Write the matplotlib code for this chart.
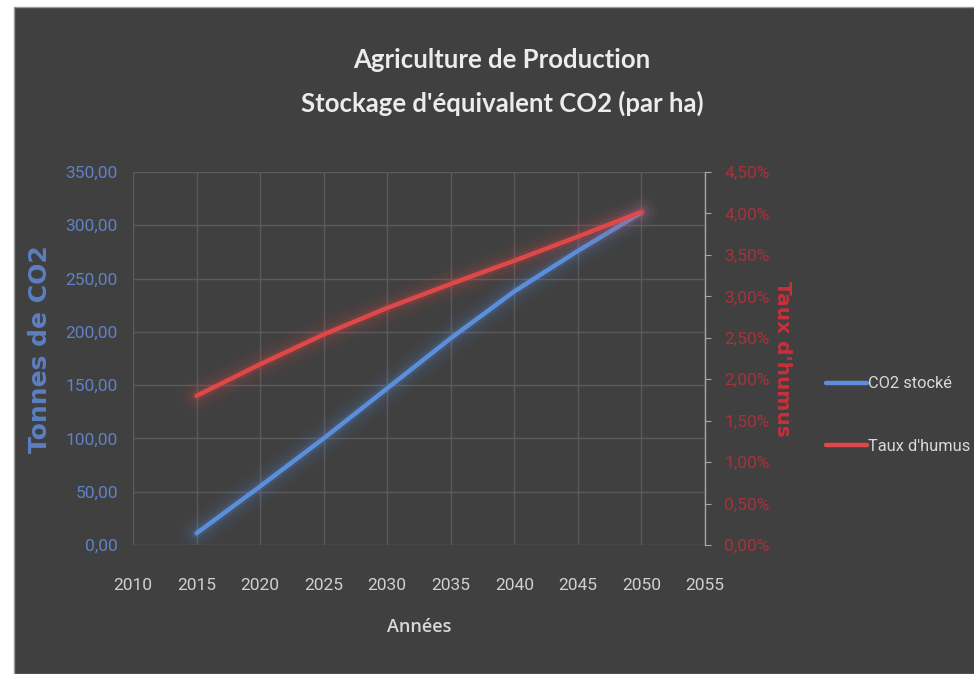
import matplotlib
matplotlib.use("Agg")
import matplotlib.pyplot as plt
from matplotlib.ticker import FuncFormatter, MultipleLocator
from matplotlib.patches import Rectangle

# Data
years = [2015, 2020, 2025, 2030, 2035, 2040, 2045, 2050]
co2_stocke = [11, 55, 100, 147, 194, 238, 276, 312]
taux_humus = [0.0180, 0.0218, 0.0254, 0.0286, 0.0315, 0.0343, 0.0372, 0.0402]

x_ticks = [2010, 2015, 2020, 2025, 2030, 2035, 2040, 2045, 2050, 2055]
title_lines = ["Agriculture de Production", "Stockage d'équivalent CO2 (par ha)"]
series_names = ["CO2 stocké", "Taux d'humus"]

BG = "#404040"
GRID = "#5a5a5a"
BLUE = "#5b8fdc"
RED = "#e04848"
NARROW = ["Liberation Sans Narrow", "DejaVu Sans Condensed", "Roboto", "DejaVu Sans"]
TITLE_FONT = ["Lato", "Open Sans", "DejaVu Sans"]

fig = plt.figure(figsize=(9.74, 6.74), dpi=100, facecolor="white")
fig.patches.append(Rectangle((14 / 974, 0), 1, 1 - 7 / 674, transform=fig.transFigure,
                             facecolor=BG, edgecolor="#9a9a9a", linewidth=1.0, zorder=-10))

ax = fig.add_axes([133 / 974, 1 - 545 / 674, 572 / 974, 373 / 674])
ax.set_facecolor("none")
ax2 = ax.twinx()
ax2.set_facecolor("none")

# Soft glow under each line
def glow_plot(axis, x, y, color, label):
    for lw, a in [(24, 0.035), (18, 0.05), (12, 0.08), (7, 0.15)]:
        axis.plot(x, y, color=color, lw=lw, alpha=a, solid_capstyle="round",
                  solid_joinstyle="round", zorder=3)
    return axis.plot(x, y, color=color, lw=3.2, solid_capstyle="round",
                     solid_joinstyle="round", zorder=4, label=label)[0]

l1 = glow_plot(ax, years, co2_stocke, BLUE, series_names[0])
l2 = glow_plot(ax2, years, taux_humus, RED, series_names[1])

ax.set_xlim(2010, 2055)
ax.set_ylim(0, 350)
ax2.set_ylim(0, 0.045)
ax.set_xticks(x_ticks)
ax.yaxis.set_major_locator(MultipleLocator(50))
ax2.yaxis.set_major_locator(MultipleLocator(0.005))

ax.grid(True, color=GRID, lw=1.0, zorder=0)
ax.set_axisbelow(True)

for s in ax.spines.values():
    s.set_visible(False)
for s in ax2.spines.values():
    s.set_visible(False)
ax2.spines["right"].set_visible(True)
ax2.spines["right"].set_color("#a6a6a6")
ax2.spines["right"].set_linewidth(1.0)

ax.yaxis.set_major_formatter(FuncFormatter(lambda v, p: f"{v:.2f}".replace(".", ",")))
ax2.yaxis.set_major_formatter(FuncFormatter(lambda v, p: f"{v * 100:.2f}%".replace(".", ",")))

ax.tick_params(axis="y", length=0, pad=11, labelcolor="#5f82c4", labelsize=12.5)
ax.tick_params(axis="x", length=0, pad=24, labelcolor="#d0d0d0", labelsize=12.5)
ax2.tick_params(axis="y", length=4, direction="out", color="#a6a6a6", pad=10,
                labelcolor="#a8323a", labelsize=12.5)
for lab in ax.get_xticklabels() + ax.get_yticklabels() + ax2.get_yticklabels():
    lab.set_family(NARROW)

ax.set_xlabel("Années", color="#d9d9d9", fontsize=13,
              family=["Open Sans", "DejaVu Sans"], fontweight="semibold")
ax.xaxis.set_label_coords(0.5, -0.195)
ax.set_ylabel("Tonnes de CO2", color="#5b7fc0", fontsize=18, fontweight="bold")
ax.yaxis.set_label_coords(-0.142, 0.525)
ax2.set_ylabel("Taux d'humus", color="#c8303a", fontsize=14.5, fontweight="bold", rotation=270)
ax2.yaxis.set_label_coords(1.152, 0.5)

fig.text(502 / 974, 1 - 60 / 674, title_lines[0], ha="center", va="center",
         color="#ececec", fontsize=18.5, family=TITLE_FONT, fontweight="bold")
fig.text(502 / 974, 1 - 103 / 674, title_lines[1], ha="center", va="center",
         color="#ececec", fontsize=18.5, family=TITLE_FONT, fontweight="bold")

leg = fig.legend([l1, l2], series_names, loc="center left",
                 bbox_to_anchor=(826 / 974, 1 - 415 / 674), frameon=False,
                 handlelength=2.5, handletextpad=0.05, labelspacing=2.9,
                 borderpad=0, borderaxespad=0,
                 prop={"family": NARROW, "size": 11.8})
for t in leg.get_texts():
    t.set_color("#d9d9d9")

fig.savefig("out.png", dpi=100, facecolor=fig.get_facecolor())
